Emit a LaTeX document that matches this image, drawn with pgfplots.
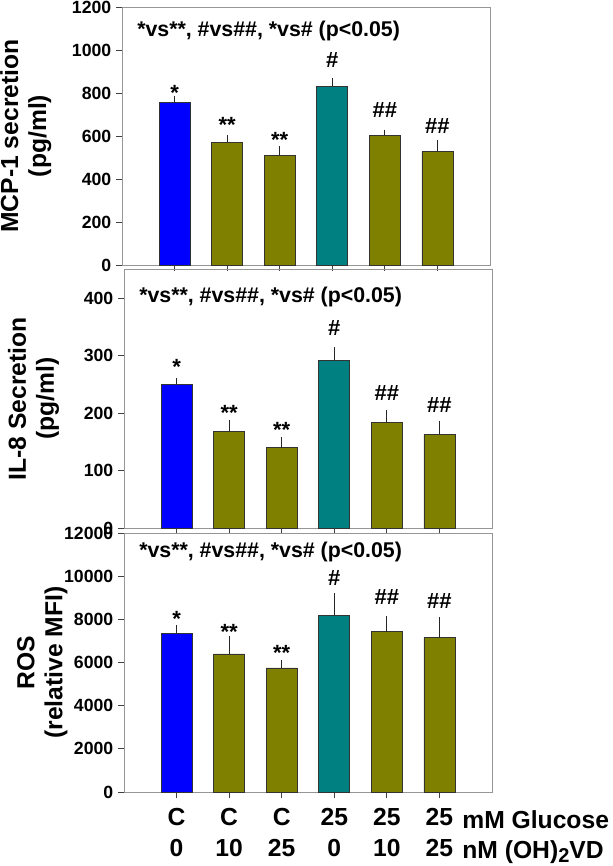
\documentclass[border=0pt]{standalone}
\usepackage{fontspec}
\setmainfont{Liberation Sans}
\usepackage{pgfplots}
\pgfplotsset{compat=1.18}
\definecolor{cblue}{RGB}{0,0,255}
\definecolor{colive}{RGB}{128,128,0}
\definecolor{cteal}{RGB}{0,128,128}
\definecolor{framegray}{RGB}{150,150,150}
\pgfplotsset{panel/.style={
  scale only axis, width=276pt, xmin=0, xmax=7, ymin=0,
  anchor=south west, clip=false,
  axis line style={framegray, line width=0.7pt},
  tick style={black!75, line width=0.6pt},
  tick align=outside, major tick length=4.5pt,
  xtick={1,2,3,4,5,6}, xtick pos=bottom, ytick pos=left,
  ybar, bar width=23.25pt, bar shift=0pt,
  yticklabel style={font=\bfseries\fontsize{13.25}{15}\selectfont},
  /pgf/number format/assume math mode=true,
  /pgf/number format/1000 sep={},
  scaled y ticks=false,
  ylabel style={font=\bfseries\fontsize{18.5}{21}\selectfont, align=center, anchor=north, inner sep=0pt},
  every axis plot/.append style={draw=black!80, line width=0.5pt,
    error bars/y dir=plus, error bars/y explicit,
    error bars/error bar style={black!85, line width=0.6pt},
    error bars/error mark options={black!85, mark size=2pt, line width=0.6pt}},
}}
\tikzset{star/.style={anchor=base, inner sep=0pt, font=\bfseries\fontsize{16.5}{18}\selectfont},
  note/.style={anchor=west, inner sep=0pt, font=\bfseries\fontsize{16}{18}\selectfont},
  bottom/.style={anchor=base west, inner sep=0pt, font=\bfseries\fontsize{18.5}{23}\selectfont}}
\begin{document}
\begin{tikzpicture}
\path[use as bounding box] (0,0) rectangle (459pt,649.5pt);
% ---------- MCP-1 ----------
\begin{axis}[panel, at={(91.5pt,450.75pt)}, height=193.5pt, ymax=1200,
  ytick={0,200,400,600,800,1000,1200}, xticklabels={},
  ylabel={MCP-1 secretion\\(pg/ml)}, ylabel style={at={(axis description cs:-0.3315,0.5)}}]
\addplot[fill=cblue] coordinates {(1,755) +- (0,17)};
\addplot[fill=colive] coordinates {(2,570) +- (0,23) (3,510) +- (0,33) (5,603) +- (0,14) (6,528) +- (0,43)};
\addplot[fill=cteal] coordinates {(4,832) +- (0,23)};
\node[note, xshift=11.25pt, yshift=-18pt] at (rel axis cs:0,1) {*vs**, \#vs\#\#, *vs\# (p<0.05)};
\node[star] at (axis cs:1,766) {*};
\node[star] at (axis cs:2,617) {**};
\node[star] at (axis cs:3,547) {**};
\node[star] at (axis cs:4,918) {\#};
\node[star] at (axis cs:5,686) {\#\#};
\node[star] at (axis cs:6,611) {\#\#};
\end{axis}
% ---------- IL-8 ----------
\begin{axis}[panel, at={(93pt,253.5pt)}, height=194pt, ymax=450,
  ytick={0,100,200,300,400}, xticklabels={},
  ylabel={IL-8 Secretion\\(pg/ml)}, ylabel style={at={(axis description cs:-0.316,0.5)}}]
\addplot[fill=cblue] coordinates {(1,250) +- (0,7)};
\addplot[fill=colive] coordinates {(2,168) +- (0,15) (3,140) +- (0,13) (5,183) +- (0,17) (6,163) +- (0,19)};
\addplot[fill=cteal] coordinates {(4,292) +- (0,18)};
\node[note, xshift=11.25pt, yshift=-21pt] at (rel axis cs:0,1) {*vs**, \#vs\#\#, *vs\# (p<0.05)};
\node[star] at (axis cs:1,267) {*};
\node[star] at (axis cs:2,187) {**};
\node[star] at (axis cs:3,158) {**};
\node[star] at (axis cs:4,335) {\#};
\node[star] at (axis cs:5,222) {\#\#};
\node[star] at (axis cs:6,201) {\#\#};
\end{axis}
% ---------- ROS ----------
\begin{axis}[panel, at={(93pt,55.5pt)}, height=194.25pt, ymax=12000,
  ytick={0,2000,4000,6000,8000,10000,12000},
  xticklabels={{C\\0},{C\\10},{C\\25},{25\\0},{25\\10},{25\\25}},
  xticklabel style={align=center, inner sep=0pt, font=\bfseries\fontsize{18.5}{23}\selectfont, yshift=-7.5pt},
  ylabel={ROS\\(relative MFI)}, ylabel style={at={(axis description cs:-0.2908,0.5)}}]
\addplot[fill=cblue] coordinates {(1,7350) +- (0,270)};
\addplot[fill=colive] coordinates {(2,6400) +- (0,700) (3,5750) +- (0,240) (5,7430) +- (0,600) (6,7150) +- (0,830)};
\addplot[fill=cteal] coordinates {(4,8200) +- (0,900)};
\node[note, xshift=11.25pt, yshift=-14.25pt] at (rel axis cs:0,1) {*vs**, \#vs\#\#, *vs\# (p<0.05)};
\node[star] at (axis cs:1,7689) {*};
\node[star] at (axis cs:2,7043) {**};
\node[star] at (axis cs:3,6074) {**};
\node[star] at (axis cs:4,9572) {\#};
\node[star] at (axis cs:5,8695) {\#\#};
\node[star] at (axis cs:6,8511) {\#\#};
\node[bottom, xshift=17pt, yshift=-27pt] at (axis cs:6,0) {mM Glucose};
\node[bottom, xshift=17pt, yshift=-49.5pt] at (axis cs:6,0) {nM (OH)\raisebox{-0.35ex}{\fontsize{15}{15}\selectfont 2}VD};
\end{axis}
\end{tikzpicture}
\end{document}
